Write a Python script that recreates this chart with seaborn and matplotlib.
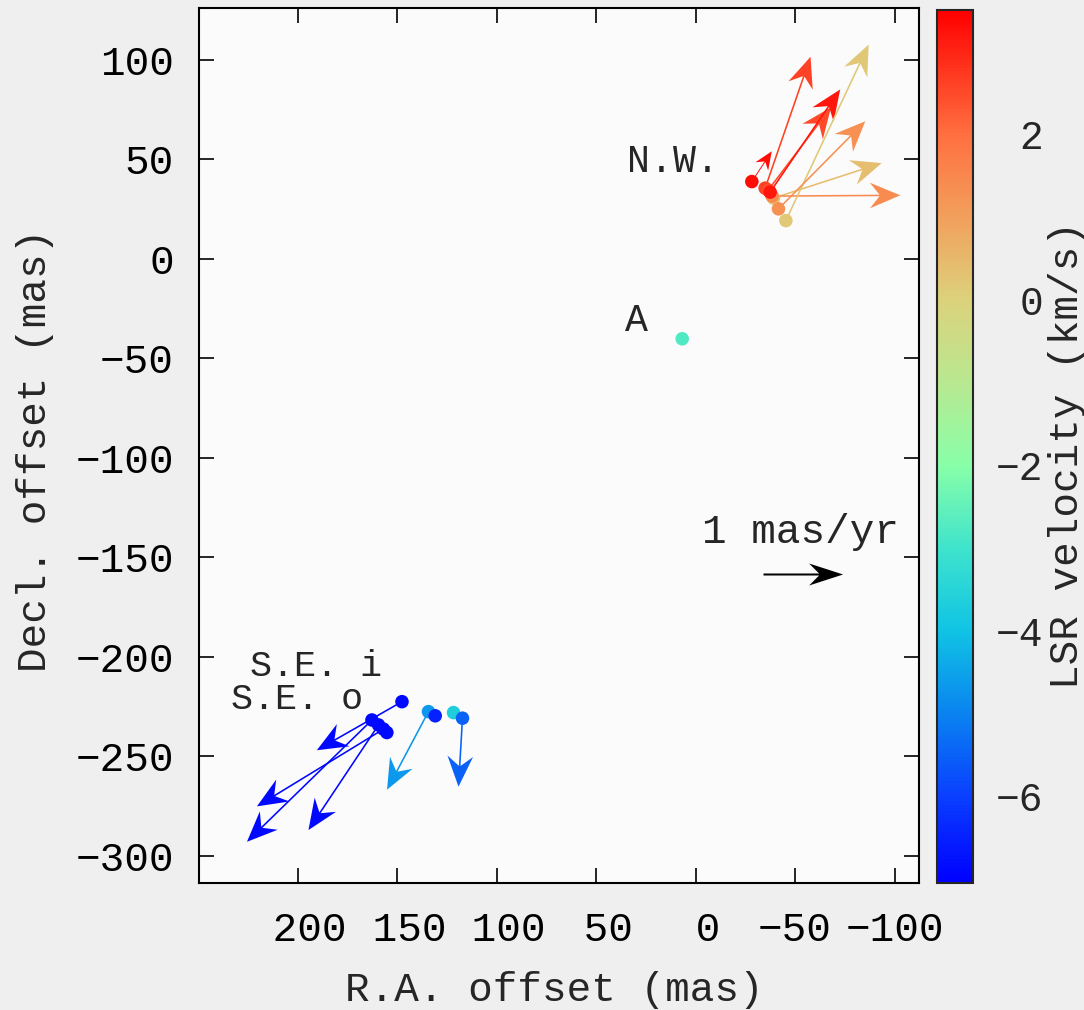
import numpy as np
import pandas as pd
import matplotlib
matplotlib.use("Agg")
import matplotlib.pyplot as plt
import seaborn as sns
from matplotlib.colors import LinearSegmentedColormap, Normalize
import matplotlib.cm as cm

# ---------------- data ----------------
ra_offset = [-28.3, -35.0, -39.2, -38.5, -36.5, -37.5, -45.4, -41.7,
             6.7,
             147.5, 162.6, 159.3, 156.8, 155.1, 134.2, 130.8, 121.6, 117.1]
dec_offset = [38.8, 35.5, 30.5, 31.5, 34.5, 33.5, 19.2, 25.1,
              -40.2,
              -222.5, -231.7, -234.2, -236.3, -238.0, -227.5, -229.6, -228.0, -230.8]
vlsr = [3.3, 2.6, 0.4, 1.4, 2.5, 3.2, 0.2, 1.3,
        -2.8,
        -6.9, -6.9, -6.9, -6.9, -6.9, -4.7, -6.5, -3.7, -5.5]
pm_ra = [-0.25, -0.57, -1.36, -1.61, -0.79, -0.88, -1.04, -1.09,
         np.nan,
         1.07, 1.57, 0.88, 1.59, np.nan, 0.52, np.nan, np.nan, 0.05]
pm_dec = [0.38, 1.65, 0.44, 0.01, 1.04, 1.29, 2.21, 1.10,
          np.nan,
          -0.61, -1.53, -1.32, -0.97, np.nan, -0.98, np.nan, np.nan, -0.86]

group_labels = ["N.W.", "A", "S.E. i", "S.E. o"]
group_label_ra = [11.2, 29.8, 190.7, 200.3]
group_label_dec = [48.7, -31.2, -205.0, -221.5]
group_label_size = [27.5, 27.5, 26.5, 26.5]

ref_pm_ra = -1.0        # mas/yr (towards west, i.e. decreasing R.A. offset)
ref_ra, ref_dec = -33.7, -158.3
ref_label = "1 mas/yr"
ref_label_ra, ref_label_dec = -53.0, -137.4
mas_per_pm = 40.0       # plotted length of 1 mas/yr in mas

x_ticks = [200, 150, 100, 50, 0, -50, -100]
x_ticklabels = [" 200", " 150", " 100", " 50", " 0", "\u221250", "\u2212100"]
y_ticks = [100, 50, 0, -50, -100, -150, -200, -250, -300]
cbar_ticks = [-6, -4, -2, 0, 2]
vmin, vmax = -7.05, 3.5

cmap_values = [-7.05, -6.0, -5.0, -4.0, -3.0, -2.0, -1.0, 0.0, 1.0, 2.0, 3.5]
cmap_colors = ["#0000ff", "#0a40ff", "#0a84f0", "#10c4e4", "#40e4cc", "#88ffa8",
               "#b8e890", "#dcd27c", "#f2a05c", "#ff7040", "#ff0000"]

# ---------------- style ----------------
sns.set_style("ticks")
plt.rcParams['font.family'] = ['Liberation Mono', 'DejaVu Sans']
FS = 29.5

norm = Normalize(vmin=vmin, vmax=vmax)
cmap = LinearSegmentedColormap.from_list(
    "vel", [((v - vmin) / (vmax - vmin), c) for v, c in zip(cmap_values, cmap_colors)])

df = pd.DataFrame({"ra": ra_offset, "dec": dec_offset, "v": vlsr,
                   "pmra": pm_ra, "pmdec": pm_dec})

W, H = 1084, 1010
fig = plt.figure(figsize=(W / 100, H / 100), dpi=100)
fig.patch.set_facecolor("#efefef")
ax = fig.add_axes([199 / W, 1 - 883 / H, 720 / W, 875 / H])
ax.set_facecolor("#fbfbfb")

# proper motion vectors
arr = df.dropna(subset=["pmra", "pmdec"])
ax.quiver(arr["ra"], arr["dec"], arr["pmra"], arr["pmdec"],
          color=cmap(norm(arr["v"].values)),
          angles="xy", scale_units="xy", scale=1 / mas_per_pm,
          units="dots", width=1.6, headlength=19, headwidth=16,
          headaxislength=13, minshaft=2, zorder=2)

# maser spots
sns.scatterplot(data=df, x="ra", y="dec", hue="v", palette=cmap, hue_norm=norm,
                s=95, edgecolor="none", linewidth=0, legend=False, ax=ax, zorder=3)

# reference arrow
ax.quiver([ref_ra], [ref_dec], [ref_pm_ra], [0.0], color="black",
          angles="xy", scale_units="xy", scale=1 / mas_per_pm,
          units="dots", width=2.0, headlength=17, headwidth=11,
          headaxislength=12, zorder=2)
ax.text(ref_label_ra, ref_label_dec, ref_label, fontsize=FS, ha="center", va="center")

for lab, lx, ly, fs in zip(group_labels, group_label_ra, group_label_dec, group_label_size):
    ax.text(lx, ly, lab, fontsize=fs, ha="center", va="center")

ax.set_xlim(249.5, -112.3)
ax.set_ylim(-313.6, 126.0)
ax.set_xticks(x_ticks)
ax.set_yticks(y_ticks)
ax.set_xticklabels(x_ticklabels)
ax.tick_params(direction="in", top=True, right=True, length=11, width=1.2,
               labelsize=FS, colors="black")
ax.tick_params(axis="x", pad=20)
ax.tick_params(axis="y", pad=18)
for sp in ax.spines.values():
    sp.set_linewidth(1.5)
    sp.set_color("black")

ax.set_xlabel("R.A. offset (mas)", fontsize=FS)
ax.set_ylabel("Decl. offset (mas)", fontsize=FS)
ax.xaxis.set_label_coords(0.494, -0.122)
ax.xaxis.label.set_va("center")
ax.yaxis.set_label_coords(-0.228, 0.494)
ax.yaxis.label.set_va("center")

# colorbar
cax = fig.add_axes([937 / W, 1 - 883 / H, 35.5 / W, 873 / H])
sm = cm.ScalarMappable(norm=norm, cmap=cmap)
cb = fig.colorbar(sm, cax=cax)
cb.set_ticks(cbar_ticks)
cb.outline.set_linewidth(1.5)
cax.tick_params(direction="in", left=True, right=True, length=13, width=1.2,
                labelsize=FS - 1, pad=51)
for t in cax.get_yticklabels():
    t.set_ha("right")
fig.text(1067 / W, 1 - 455 / H, "LSR velocity (km/s)", rotation=90,
         fontsize=FS, ha="center", va="center")

fig.savefig("out.png", dpi=100, facecolor=fig.get_facecolor())
